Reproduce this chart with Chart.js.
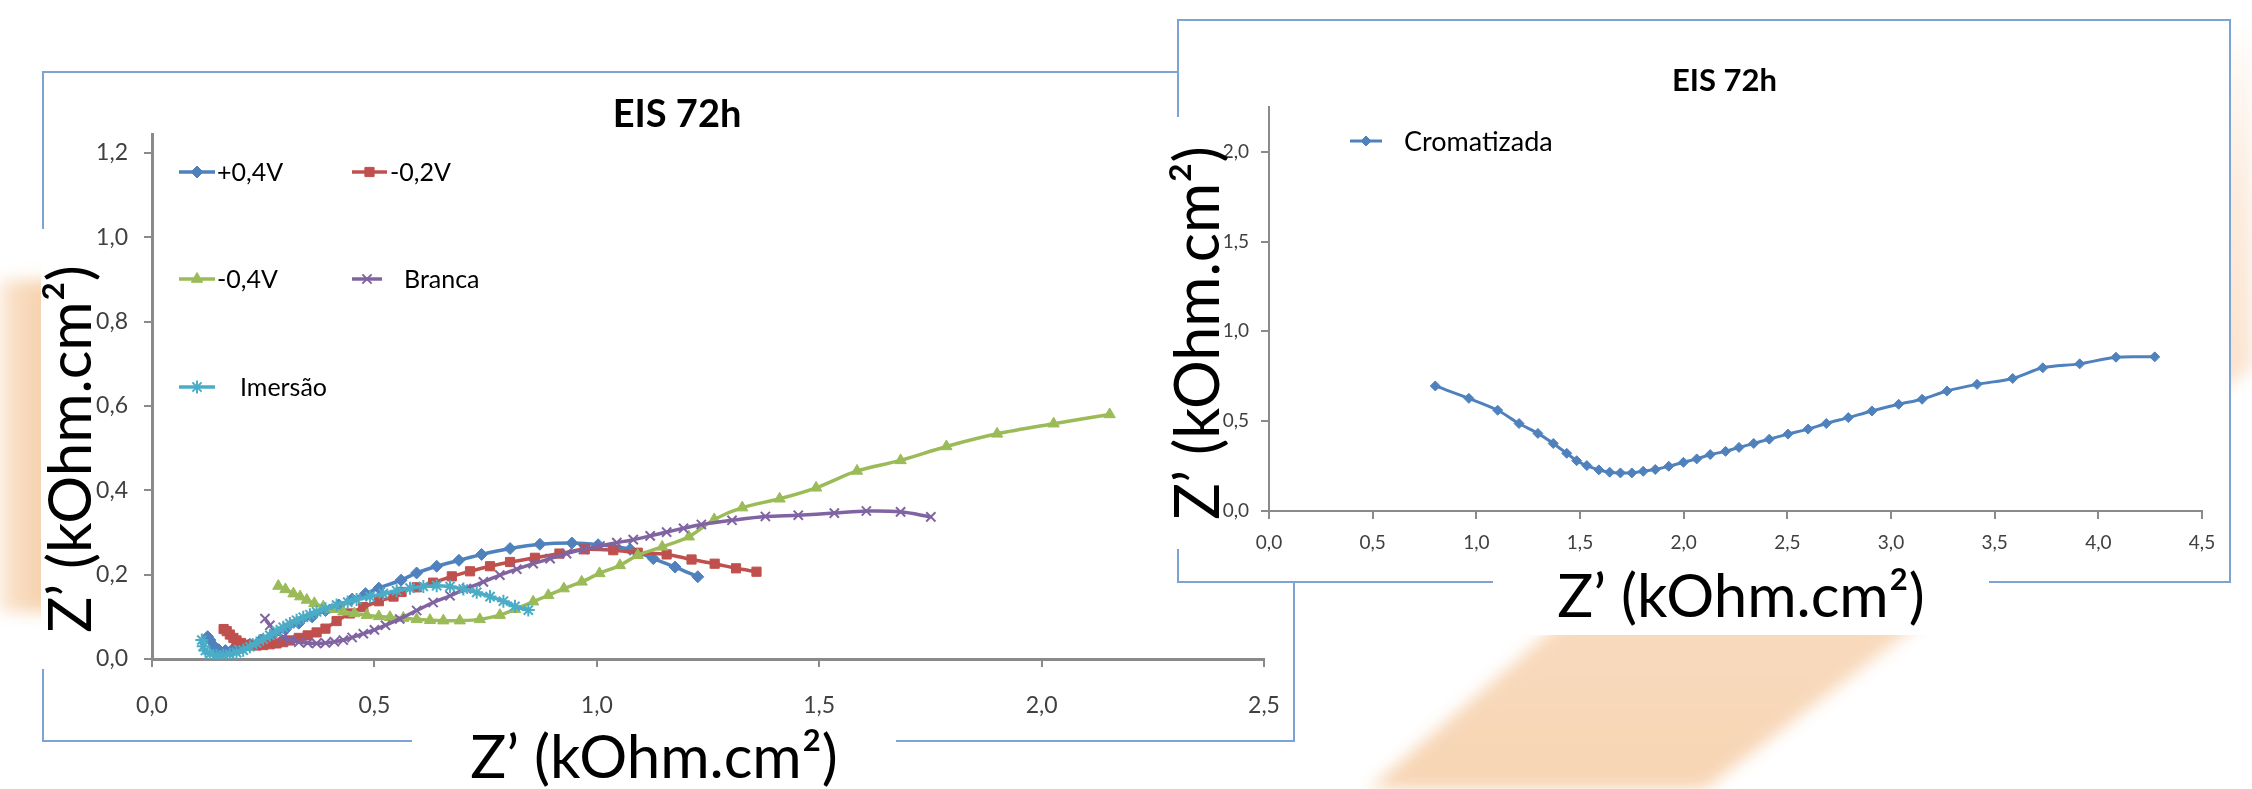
<!DOCTYPE html>
<html><head><meta charset="utf-8">
<script src="https://cdn.jsdelivr.net/npm/chart.js@4/dist/chart.umd.min.js"></script>
<style>
html,body{margin:0;padding:0;width:2252px;height:789px;overflow:hidden;background:#fff;font-family:Lato,sans-serif;}
.frame{position:absolute;border:2px solid #7BA4D4;background:#fff;box-sizing:border-box;}
.blur{position:absolute;left:0;top:0;width:2252px;height:789px;filter:blur(8px);}
.shape{position:absolute;left:0;top:0;width:2252px;height:789px;}
.axt{position:absolute;background:#fff;color:#000;font-family:Lato,sans-serif;text-align:center;white-space:nowrap;overflow:visible;}
canvas{position:absolute;}
</style></head><body>
<div class="blur"><div class="shape" style="background:linear-gradient(90deg,#FBE6D2 0px,#F6D2AE 40px);clip-path:polygon(0px 280px,60px 280px,60px 612px,0px 612px);"></div></div>
<div class="blur"><div class="shape" style="background:linear-gradient(0deg,#F7D5B4 0%,#F9DDC3 35%,#FCEBDC 75%,#FFFFFF 100%);clip-path:polygon(1369px 789px,1705px 789px,2729px 0px,2276px 0px);"></div></div>

<div class="frame" style="left:42px;top:71px;width:1253px;height:671px;"></div>
<canvas id="left" width="1250" height="669" style="left:55px;top:72px;width:1250px;height:669px;"></canvas>

<div class="frame" style="left:1177px;top:19px;width:1054px;height:564px;"></div>
<canvas id="right" width="1009" height="561" style="left:1220px;top:20px;width:1009px;height:561px;"></canvas>

<div class="axt" style="left:412px;top:724px;width:484px;height:65px;line-height:62px;font-size:60px;">Z’ (kOhm.cm²)</div>
<div class="axt" style="left:-152px;top:422px;width:440px;height:54px;line-height:54px;font-size:60px;transform:rotate(-90deg);">Z’ (kOhm.cm²)</div>
<div class="axt" style="left:1493px;top:553px;width:496px;height:82px;line-height:82px;font-size:60px;">Z’ (kOhm.cm²)</div>
<div class="axt" style="left:979.5px;top:310px;width:432px;height:46px;line-height:46px;font-size:61px;transform:rotate(-90deg);">Z’ (kOhm.cm²)</div>

<script>
// ---------- data ----------
const seriesLabels = ['+0,4V', '-0,2V', '-0,4V', 'Branca', 'Imersão'];
const plus04V = [[0.125,0.053],[0.13,0.045],[0.14,0.03],[0.15,0.022],[0.165,0.02],[0.18,0.022],[0.2,0.028],[0.22,0.035],[0.245,0.045],[0.27,0.056],[0.3,0.07],[0.33,0.085],[0.36,0.1],[0.39,0.115],[0.42,0.128],[0.45,0.142],[0.48,0.155],[0.51,0.168],[0.56,0.187],[0.595,0.204],[0.64,0.22],[0.69,0.234],[0.741,0.248],[0.805,0.262],[0.872,0.272],[0.944,0.275],[1.003,0.271],[1.075,0.26],[1.127,0.238],[1.176,0.218],[1.227,0.195]];
const minus02V = [[0.161,0.071],[0.168,0.066],[0.175,0.058],[0.183,0.05],[0.19,0.044],[0.2,0.038],[0.21,0.034],[0.22,0.032],[0.235,0.032],[0.25,0.033],[0.265,0.035],[0.28,0.037],[0.295,0.04],[0.31,0.044],[0.33,0.05],[0.35,0.056],[0.37,0.063],[0.39,0.072],[0.415,0.09],[0.445,0.108],[0.475,0.123],[0.51,0.137],[0.543,0.148],[0.561,0.159],[0.595,0.17],[0.632,0.181],[0.674,0.196],[0.715,0.208],[0.76,0.22],[0.805,0.23],[0.861,0.24],[0.916,0.25],[0.973,0.26],[1.037,0.258],[1.092,0.252],[1.157,0.248],[1.213,0.236],[1.265,0.226],[1.313,0.215],[1.359,0.207]];
const minus04V = [[0.284,0.173],[0.3,0.165],[0.318,0.155],[0.333,0.148],[0.348,0.14],[0.365,0.132],[0.385,0.124],[0.405,0.118],[0.43,0.112],[0.455,0.108],[0.483,0.104],[0.51,0.101],[0.535,0.099],[0.565,0.097],[0.595,0.094],[0.625,0.092],[0.655,0.091],[0.692,0.091],[0.737,0.094],[0.782,0.104],[0.816,0.118],[0.857,0.136],[0.891,0.151],[0.926,0.167],[0.966,0.183],[1.006,0.203],[1.052,0.222],[1.092,0.246],[1.147,0.266],[1.207,0.29],[1.264,0.331],[1.327,0.359],[1.411,0.38],[1.493,0.406],[1.585,0.446],[1.683,0.471],[1.786,0.504],[1.9,0.534],[2.027,0.558],[2.153,0.58]];
const branca = [[0.254,0.096],[0.265,0.08],[0.28,0.064],[0.295,0.052],[0.31,0.045],[0.33,0.04],[0.35,0.038],[0.37,0.037],[0.39,0.038],[0.41,0.041],[0.43,0.045],[0.45,0.051],[0.475,0.06],[0.5,0.069],[0.525,0.08],[0.557,0.095],[0.595,0.115],[0.632,0.134],[0.67,0.15],[0.707,0.167],[0.745,0.183],[0.782,0.199],[0.82,0.213],[0.857,0.226],[0.895,0.238],[0.932,0.25],[0.97,0.26],[1.007,0.268],[1.045,0.276],[1.082,0.283],[1.12,0.292],[1.157,0.301],[1.195,0.31],[1.235,0.319],[1.304,0.329],[1.379,0.338],[1.453,0.341],[1.534,0.346],[1.606,0.351],[1.683,0.349],[1.751,0.337]];
const imersao = [[0.112,0.045],[0.115,0.03],[0.12,0.02],[0.13,0.012],[0.145,0.009],[0.16,0.009],[0.175,0.011],[0.19,0.015],[0.205,0.021],[0.22,0.029],[0.235,0.038],[0.25,0.047],[0.265,0.056],[0.28,0.066],[0.295,0.075],[0.31,0.084],[0.325,0.092],[0.34,0.099],[0.355,0.105],[0.37,0.112],[0.39,0.119],[0.415,0.128],[0.44,0.135],[0.46,0.141],[0.49,0.148],[0.52,0.155],[0.55,0.162],[0.58,0.168],[0.61,0.172],[0.64,0.174],[0.67,0.172],[0.7,0.166],[0.73,0.158],[0.76,0.148],[0.79,0.137],[0.816,0.125],[0.846,0.116]];
const cromatizadaLabel = 'Cromatizada';
const cromatizada = [[0.802,0.696],[0.964,0.627],[1.103,0.561],[1.206,0.487],[1.297,0.432],[1.371,0.376],[1.436,0.321],[1.484,0.28],[1.533,0.253],[1.591,0.229],[1.643,0.216],[1.695,0.212],[1.75,0.212],[1.805,0.221],[1.863,0.231],[1.928,0.249],[1.999,0.271],[2.063,0.29],[2.128,0.314],[2.202,0.332],[2.267,0.354],[2.338,0.376],[2.413,0.4],[2.503,0.428],[2.6,0.456],[2.688,0.487],[2.794,0.52],[2.908,0.557],[3.037,0.594],[3.15,0.622],[3.27,0.668],[3.415,0.705],[3.587,0.738],[3.732,0.797],[3.91,0.819],[4.085,0.856],[4.272,0.858]];
const chartTitle = 'EIS 72h';
const xTicksLeft = [0, 0.5, 1.0, 1.5, 2.0, 2.5];
const yTicksLeft = [0, 0.2, 0.4, 0.6, 0.8, 1.0, 1.2];
const xTicksRight = [0, 0.5, 1.0, 1.5, 2.0, 2.5, 3.0, 3.5, 4.0, 4.5];
const yTicksRight = [0, 0.5, 1.0, 1.5, 2.0];

// ---------- helpers ----------
Chart.defaults.font.family = 'Lato';
const AX = '#8A8A8A';
const fmt = v => Number(v).toFixed(1).replace('.', ',');
const COLORS = ['#4F81BD', '#C0504D', '#9BBB59', '#8064A2', '#4BACC6'];
const STYLES = ['rectRot', 'rect', 'triangle', 'crossRot', 'star'];

function makeDs(label, pts, i, n, radii, lw) {
  const c = COLORS[i];
  const stroked = STYLES[i] === 'crossRot' || STYLES[i] === 'star';
  return {
    label, data: pts.map(p => ({x: p[0], y: p[1]})),
    borderColor: c, backgroundColor: c, pointBackgroundColor: c, pointBorderColor: c,
    pointStyle: STYLES[i], pointRadius: radii[i], pointBorderWidth: stroked ? 2 : 1,
    borderWidth: lw, showLine: true, tension: 0.3, fill: false, order: n - i
  };
}

function drawMarker(ctx, style, r, bw, x, y) {
  if (Chart.helpers && Chart.helpers.drawPoint) {
    ctx.lineWidth = bw;
    Chart.helpers.drawPoint(ctx, {pointStyle: style, rotation: 0, radius: r, borderWidth: bw}, x, y);
  }
}

const sheetLegend = {
  id: 'sheetLegend',
  afterDraw(chart, args, opts) {
    const ctx = chart.ctx;
    (opts.items || []).forEach(it => {
      const ds = chart.data.datasets[it.index];
      ctx.save();
      ctx.strokeStyle = ds.borderColor; ctx.fillStyle = ds.backgroundColor;
      ctx.lineWidth = ds.borderWidth;
      ctx.beginPath(); ctx.moveTo(it.x0, it.y); ctx.lineTo(it.x1, it.y); ctx.stroke();
      drawMarker(ctx, ds.pointStyle, ds.pointRadius, ds.pointBorderWidth, (it.x0 + it.x1) / 2, it.y);
      ctx.fillStyle = '#000';
      ctx.font = opts.fontSize + 'px Lato';
      ctx.textBaseline = 'middle'; ctx.textAlign = 'left';
      ctx.fillText(ds.label, it.tx, it.y + 1);
      ctx.restore();
    });
  }
};

// title drawn at a fixed centre (used where the built-in title cannot be centred as needed)
const fixedTitle = {
  id: 'fixedTitle',
  afterDraw(chart, args, opts) {
    if (!opts.text) return;
    const ctx = chart.ctx;
    ctx.save();
    ctx.fillStyle = '#000';
    ctx.font = 'bold ' + opts.size + 'px Lato';
    ctx.textAlign = 'center'; ctx.textBaseline = 'middle';
    ctx.fillText(opts.text, opts.cx, opts.cy);
    ctx.restore();
  }
};

function axes(o) {
  const common = (ticksArr, fs, pad) => ({
    type: 'linear',
    afterBuildTicks: s => { s.ticks = ticksArr.map(v => ({value: v})); },
    border: {display: true, color: AX, width: o.aw},
    grid: {display: true, drawOnChartArea: false, drawTicks: true, tickLength: 8, color: AX, lineWidth: 2},
    ticks: {font: {family: 'Lato', size: fs}, color: '#404040', padding: pad, maxRotation: 0, autoSkip: false, callback: v => fmt(v)}
  });
  const x = Object.assign(common(o.xt, o.fs, o.xp), {min: 0, max: o.xmax, afterFit: s => { s.height = o.xh; }});
  const y = Object.assign(common(o.yt, o.fs, o.yp), {min: 0, max: o.ymax, afterFit: s => { s.width = o.yw; }});
  return {x, y};
}

// ---------- left chart ----------
const leftSeries = [plus04V, minus02V, minus04V, branca, imersao];
new Chart(document.getElementById('left'), {
  type: 'scatter',
  data: {datasets: leftSeries.map((s, i) => makeDs(seriesLabels[i], s, i, leftSeries.length, [6, 6.5, 6.5, 6.5, 6.5], 3.5))},
  options: {
    responsive: false, animation: false, events: [],
    layout: {padding: {left: 35, right: 41, top: 0, bottom: 0}},
    scales: axes({xt: xTicksLeft, yt: yTicksLeft, xmax: 2.5, ymax: 1.245, fs: 23, xp: 25, yp: 16, xh: 82, yw: 62, aw: 3}),
    plugins: {
      legend: {display: false}, tooltip: {enabled: false},
      title: {display: true, text: chartTitle, color: '#000', font: {family: 'Lato', size: 38, weight: 'bold', lineHeight: 1}, padding: {top: 24, bottom: 0}},
      sheetLegend: {fontSize: 25, items: [
        {index: 0, x0: 124, x1: 160, y: 100, tx: 162},
        {index: 1, x0: 297, x1: 332, y: 100, tx: 335},
        {index: 2, x0: 124, x1: 160, y: 207, tx: 162},
        {index: 3, x0: 297, x1: 327, y: 207, tx: 349},
        {index: 4, x0: 124, x1: 160, y: 315, tx: 185}
      ]}
    }
  },
  plugins: [sheetLegend]
});

// ---------- right chart ----------
new Chart(document.getElementById('right'), {
  type: 'scatter',
  data: {datasets: [makeDs(cromatizadaLabel, cromatizada, 0, 1, [5, 5, 5, 5, 5], 3)]},
  options: {
    responsive: false, animation: false, events: [],
    layout: {padding: {left: 0, right: 27, top: 86.8, bottom: 0}},
    scales: axes({xt: xTicksRight, yt: yTicksRight, xmax: 4.5, ymax: 2.25, fs: 19, xp: 12, yp: 12, xh: 70, yw: 49, aw: 2}),
    plugins: {
      legend: {display: false}, tooltip: {enabled: false}, title: {display: false},
      fixedTitle: {text: chartTitle, size: 31, cx: 504.5, cy: 61},
      sheetLegend: {fontSize: 27, items: [
        {index: 0, x0: 130, x1: 162, y: 121, tx: 184}
      ]}
    }
  },
  plugins: [sheetLegend, fixedTitle]
});
</script>
</body></html>
